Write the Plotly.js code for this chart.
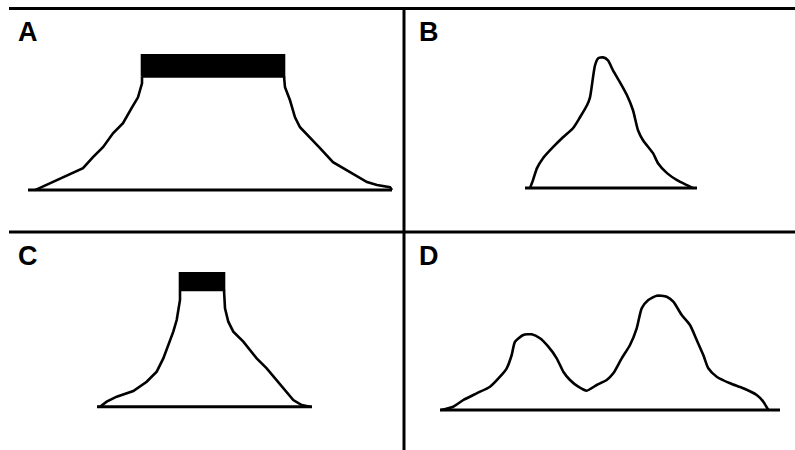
<!DOCTYPE html>
<html>
<head>
<meta charset="utf-8">
<script src="https://cdn.plot.ly/plotly-3.0.1.min.js"></script>
<style>html,body{margin:0;padding:0;background:#fff;}#chart{width:795px;height:450px;}</style>
</head>
<body>
<div id="chart"></div>
<script>
// Panel labels
var panelLabels = ["A", "B", "C", "D"];

// Panel A: wide peak with saturated (clipped) top
var aLeftX  = [35, 50, 67, 83, 93, 103, 113, 123, 132, 138, 142, 142];
var aLeftY  = [0, 7, 15, 22, 33, 43, 57, 67, 83, 93, 107, 114];
var aRightX = [284, 285, 290, 295, 300, 310, 320, 333, 350, 367, 377, 390, 392];
var aRightY = [114, 103, 90, 73, 63, 53, 42, 28, 18, 8, 5, 3, 0];
var aBarX = [142, 284];
var aBarY = [114, 135];
var aBaseX = [28, 392];

// Panel B: single sharp peak with a left shoulder
var bX = [126, 129, 133, 139, 149, 159, 169, 176, 183, 186, 189, 191, 194, 199, 204, 209, 216, 223, 229, 234, 239, 249, 254, 263, 273, 283, 289];
var bY = [0, 8, 20, 30, 41, 51, 60, 71, 83, 91, 111, 123, 130, 131, 128, 118, 106, 93, 78, 58, 48, 35, 25, 15, 8, 3, 0];
var bBaseX = [121, 293];

// Panel C: narrower peak with saturated top
var cLeftX  = [100, 106.7, 116.7, 133.3, 146.7, 156.7, 163.3, 168.3, 173.3, 176.7, 179, 180, 180];
var cLeftY  = [0, 5, 10, 15.7, 25, 35, 48.3, 61.7, 75, 86.7, 98.3, 106.7, 116.7];
var cRightX = [224, 225, 228.3, 233.3, 243.3, 256.7, 266.7, 276.7, 286.7, 293.3, 301.7, 310];
var cRightY = [116.7, 98.3, 85, 75, 65, 48.3, 38.3, 26.7, 15, 6.7, 1.7, 0];
var cBarX = [180, 224];
var cBarY = [116.7, 133.3];
var cBaseX = [97, 312];

// Panel D: two partially resolved peaks
var dX = [37, 49.3, 59.3, 72.7, 86, 96, 102.7, 107.7, 111, 119.3, 127.7, 136, 144.3, 152.7, 159.3, 166, 174.3, 182.7, 192.7, 202.7, 209.3, 217.7, 226, 232.7, 237.7, 244.3, 252.7, 262.7, 269.3, 277.7, 286, 292.7, 299.3, 304.3, 312.7, 326, 339.3, 352.7, 359.3, 364.3];
var dY = [0, 3.3, 10, 16.7, 23.3, 33.3, 41.7, 55, 68.3, 75, 75.7, 71.7, 63.3, 51.7, 38.3, 30, 23.3, 19.3, 25, 30, 36.7, 51.7, 65, 81.7, 101.7, 110, 114.3, 113.3, 108.3, 95, 85, 70, 55, 41.7, 33.3, 26.7, 21.7, 15, 8.3, 0];
var dBaseX = [36, 376];

var LW = 2.6, BW = 3;
function line(x, y, ax, shape) {
  return {x: x, y: y, xaxis: 'x' + ax, yaxis: 'y' + ax, mode: 'lines', type: 'scatter',
          line: {color: '#000', width: LW, shape: shape || 'linear', smoothing: 0.6},
          hoverinfo: 'skip', showlegend: false, cliponaxis: false};
}
function base(xs, ax) {
  return {x: xs, y: [0, 0], xaxis: 'x' + ax, yaxis: 'y' + ax, mode: 'lines', type: 'scatter',
          line: {color: '#000', width: BW}, hoverinfo: 'skip', showlegend: false, cliponaxis: false};
}
function bar(bx, by, ax) {
  return {x: [bx[0], bx[0], bx[1], bx[1], bx[0]], y: [by[0], by[1], by[1], by[0], by[0]],
          xaxis: 'x' + ax, yaxis: 'y' + ax, mode: 'lines', type: 'scatter', fill: 'toself',
          fillcolor: '#000', line: {color: '#000', width: LW}, hoverinfo: 'skip', showlegend: false};
}

var traces = [
  line(aLeftX, aLeftY, ''), line(aRightX, aRightY, ''), bar(aBarX, aBarY, ''), base(aBaseX, ''),
  line(bX, bY, '2', 'spline'), base(bBaseX, '2'),
  line(cLeftX, cLeftY, '3'), line(cRightX, cRightY, '3'), bar(cBarX, cBarY, '3'), base(cBaseX, '3'),
  line(dX, dY, '4', 'spline'), base(dBaseX, '4')
];

var W = 795, H = 450, splitX = 404, topY = 8.5, midY = 232;
var xl = [0, splitX / W], xr = [splitX / W, 1];
var yt = [1 - midY / H, 1 - topY / H], yb = [0, 1 - midY / H];
function ax(dom, rng) { return {domain: dom, range: rng, visible: false, fixedrange: true}; }

var ann = panelLabels.map(function(t, i) {
  var left = (i % 2 === 0) ? 15.5 : 416.5;
  var top = (i < 2) ? 31.5 : 255.5;
  return {text: t, xref: 'paper', yref: 'paper', x: left / W, y: 1 - top / H,
          xanchor: 'left', yanchor: 'middle', showarrow: false,
          font: {family: 'Liberation Sans Narrow, Liberation Sans, Arial, sans-serif', size: 27, color: '#000', weight: 'bold'}};
});

var shapes = [
  {type: 'line', xref: 'paper', yref: 'paper', x0: 9 / W, x1: 1, y0: 1 - topY / H, y1: 1 - topY / H, line: {color: '#000', width: 3}},
  {type: 'line', xref: 'paper', yref: 'paper', x0: 9 / W, x1: 1, y0: 1 - midY / H, y1: 1 - midY / H, line: {color: '#000', width: 3}},
  {type: 'line', xref: 'paper', yref: 'paper', x0: splitX / W, x1: splitX / W, y0: 0, y1: 1 - topY / H, line: {color: '#000', width: 3}}
];

var layout = {
  width: W, height: H, margin: {l: 0, r: 0, t: 0, b: 0},
  paper_bgcolor: '#fff', plot_bgcolor: 'rgba(0,0,0,0)', showlegend: false,
  xaxis: ax(xl, [0, 404]), yaxis: ax(yt, [-42, 182]),
  xaxis2: ax(xr, [0, 391]), yaxis2: ax(yt, [-44, 180]),
  xaxis3: ax(xl, [0, 404]), yaxis3: ax(yb, [-43.3, 174.7]),
  xaxis4: ax(xr, [0, 391]), yaxis4: ax(yb, [-40, 178]),
  annotations: ann, shapes: shapes
};

Plotly.newPlot('chart', traces, layout, {staticPlot: true, displayModeBar: false});
</script>
</body>
</html>
